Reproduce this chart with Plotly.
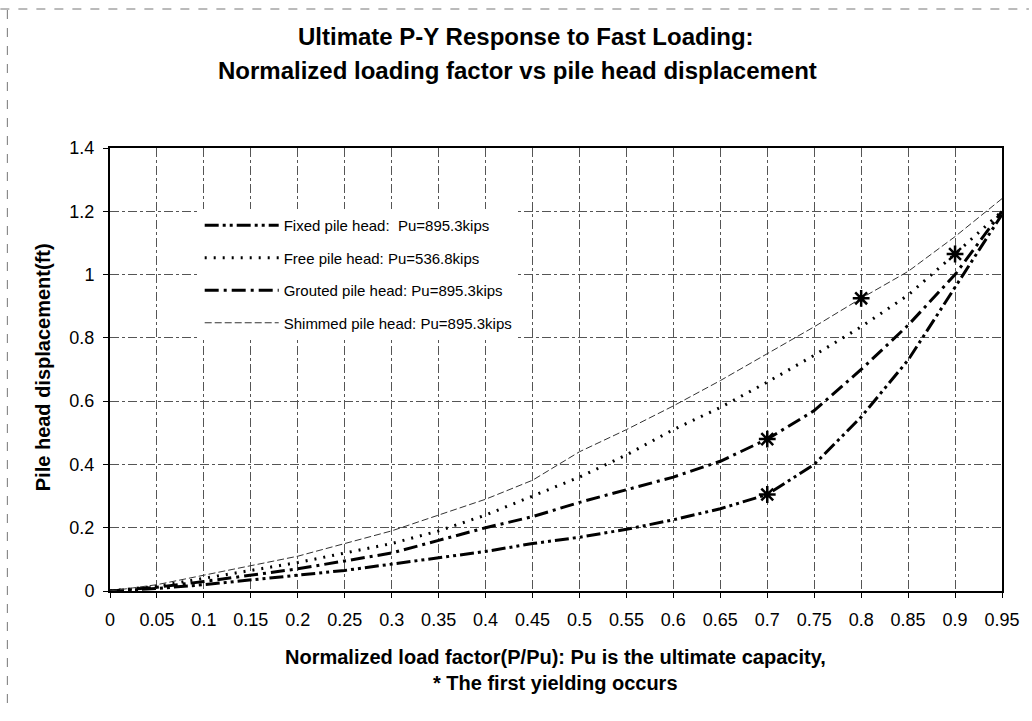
import plotly.graph_objects as go

# ---- data ----
load_factor = [0, 0.05, 0.1, 0.15, 0.2, 0.25, 0.3, 0.35, 0.4, 0.45,
               0.5, 0.55, 0.6, 0.65, 0.7, 0.75, 0.8, 0.85, 0.9, 0.95]
tick_labels = ["0", "0.05", "0.1", "0.15", "0.2", "0.25", "0.3", "0.35", "0.4", "0.45",
               "0.5", "0.55", "0.6", "0.65", "0.7", "0.75", "0.8", "0.85", "0.9", "0.95"]
fixed = [0, 0.008, 0.02, 0.035, 0.05, 0.065, 0.085, 0.105, 0.125, 0.15,
         0.17, 0.195, 0.225, 0.26, 0.305, 0.40, 0.55, 0.73, 0.96, 1.19]
free = [0, 0.015, 0.04, 0.065, 0.09, 0.12, 0.15, 0.19, 0.24, 0.30,
        0.36, 0.43, 0.51, 0.58, 0.66, 0.745, 0.835, 0.935, 1.065, 1.2]
grouted = [0, 0.012, 0.03, 0.05, 0.07, 0.095, 0.12, 0.16, 0.20, 0.235,
           0.28, 0.32, 0.36, 0.41, 0.48, 0.57, 0.70, 0.84, 1.0, 1.2]
shimmed = [0, 0.02, 0.05, 0.08, 0.11, 0.15, 0.19, 0.24, 0.29, 0.35,
           0.44, 0.51, 0.585, 0.665, 0.75, 0.835, 0.925, 1.01, 1.12, 1.24]
series_names = ["Fixed pile head:\u00a0\u00a0Pu=895.3kips",
                "Free pile head: Pu=536.8kips",
                "Grouted pile head: Pu=895.3kips",
                "Shimmed pile head: Pu=895.3kips"]
# load factor at which the first yielding occurs for each series
first_yield = [0.7, 0.9, 0.7, 0.8]

series = [fixed, free, grouted, shimmed]
styles = [
    dict(color="black", width=3, dash="14px,4px,3px,4px,3px,4px"),
    dict(color="black", width=3, dash="2px,7px"),
    dict(color="black", width=3, dash="14px,5px,3px,5px"),
    dict(color="#333333", width=1, dash="7px,3px"),
]

FONT = "Liberation Sans, Arial, sans-serif"
fig = go.Figure()
for i, (name, ys, st) in enumerate(zip(series_names, series, styles)):
    fig.add_trace(go.Scatter(x=load_factor, y=ys, mode="lines", name=name,
                             line=st, legendgroup=f"g{i}"))

yx, yy = [], []
for ys, fy in zip(series, first_yield):
    idx = min(range(len(load_factor)), key=lambda k: abs(load_factor[k] - fy))
    yx.append(load_factor[idx]); yy.append(ys[idx])
fig.add_trace(go.Scatter(x=yx, y=yy, mode="markers", showlegend=False,
                         marker=dict(symbol="asterisk-open", size=14, color="black",
                                     line=dict(color="black", width=2.5))))

W, H = 1032, 721
L, R, T, B = 110, 27, 148, 130
PW, PH = W - L - R, H - T - B
fig.update_layout(
    width=W, height=H,
    margin=dict(l=L, r=R, t=T, b=B),
    paper_bgcolor="white", plot_bgcolor="white",
    font=dict(family=FONT, color="black", size=18),
    showlegend=True,
    legend=dict(x=(200 - L) / PW, y=(H - B - 209) / PH,
                xanchor="left", yanchor="top", bgcolor="white",
                font=dict(family=FONT, size=15, color="black"),
                tracegroupgap=10, borderwidth=0, itemwidth=74),
)
grid = dict(showgrid=True, gridcolor="#555555", gridwidth=1, griddash="dashdot",
            showline=True, linecolor="black", linewidth=2, mirror=True,
            ticks="outside", ticklen=5, tickcolor="black", zeroline=False,
            tickfont=dict(family=FONT, size=18, color="black"))
fig.update_xaxes(range=[0, 0.95], tickvals=load_factor, ticktext=tick_labels,
                 ticklabelstandoff=6, **grid)
fig.update_yaxes(range=[0, 1.4], tickvals=[0, 0.2, 0.4, 0.6, 0.8, 1.0, 1.2, 1.4],
                 ticktext=["0", "0.2", "0.4", "0.6", "0.8", "1", "1.2", "1.4"],
                 ticklabelstandoff=5, **grid)

tfont = dict(family=FONT, size=24, color="black")
xfont = dict(family=FONT, size=20, color="black")
anns = [
    dict(text="<b>Ultimate P-Y Response to Fast Loading:</b>", x=527, y=36, font=tfont),
    dict(text="<b>Normalized loading factor vs pile head displacement</b>", x=519, y=71, font=tfont),
    dict(text="<b>Normalized load factor(P/Pu): Pu is the ultimate capacity,</b>", x=557, y=657,
         font=xfont),
    dict(text="<b>* The first yielding occurs</b>", x=557, y=683, font=xfont),
]
for a in anns:
    fig.add_annotation(text=a["text"], xref="paper", yref="paper",
                       x=(a["x"] - L) / PW, y=(H - B - a["y"]) / PH,
                       xanchor="center", yanchor="middle", showarrow=False, font=a["font"])
fig.add_annotation(text="<b>Pile head displacement(ft)</b>", textangle=-90,
                   xref="paper", yref="paper", x=(43 - L) / PW, y=(H - B - 367) / PH,
                   xanchor="center", yanchor="middle", showarrow=False,
                   font=dict(family=FONT, size=20, color="black"))

# scanned page frame lines (top and left)
fig.add_shape(type="line", xref="paper", yref="paper",
              x0=(0 - L) / PW, x1=(W - L) / PW,
              y0=(H - B - 9) / PH, y1=(H - B - 9) / PH,
              line=dict(color="#777777", width=1, dash="dash"))
fig.add_shape(type="line", xref="paper", yref="paper",
              x0=(7 - L) / PW, x1=(7 - L) / PW,
              y0=(H - B - 10) / PH, y1=(H - B - 710) / PH,
              line=dict(color="#777777", width=1, dash="dash"))

fig.write_html("out.html", config={"displayModeBar": False},
               post_script="document.body.style.margin='0';document.body.style.overflow='hidden';")
